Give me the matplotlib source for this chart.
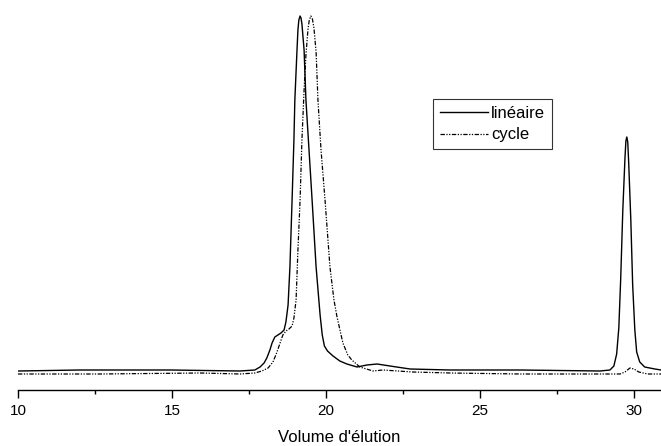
import numpy as np
import matplotlib
matplotlib.use("Agg")
import matplotlib.pyplot as plt
from matplotlib.ticker import MultipleLocator

plt.rcParams["font.family"] = ["Liberation Sans", "DejaVu Sans"]

# chromatogramme (volume, signal en unités arbitraires)
vol_lin = [10.0, 12.01, 14.94, 17.21, 17.69, 17.86, 17.99, 18.08, 18.18, 18.25,
           18.34, 18.44, 18.54, 18.64, 18.70, 18.77, 18.83, 18.90, 18.96, 18.99,
           19.06, 19.09, 19.12, 19.16, 19.19, 19.22, 19.29, 19.35, 19.45, 19.55,
           19.68, 19.81, 19.88, 19.95, 20.05, 20.23, 20.45, 20.68, 21.01, 21.33,
           21.66, 22.08, 22.73, 24.03, 26.30, 28.90, 29.22, 29.35, 29.44, 29.51,
           29.57, 29.64, 29.71, 29.74, 29.77, 29.80, 29.83, 29.90, 29.96, 30.03,
           30.09, 30.19, 30.35, 30.68, 30.88]
sig_lin = [19, 20, 20, 19, 20, 23, 27, 32, 40, 47,
           53, 55, 57, 60, 68, 85, 123, 190, 250, 290,
           340, 360, 370, 374, 372, 366, 340, 290, 240, 190,
           123, 75, 55, 44, 39, 34, 29, 26, 23, 25,
           26, 24, 21, 20, 20, 19, 20, 24, 36, 62,
           110, 180, 232, 249, 253, 248, 228, 170, 105, 60,
           38, 28, 23, 21, 20]

vol_cyc = [10.0, 12.66, 15.91, 17.21, 17.69, 17.92, 18.12, 18.28, 18.41, 18.51,
           18.60, 18.70, 18.80, 18.90, 18.96, 19.03, 19.09, 19.16, 19.22, 19.29,
           19.35, 19.42, 19.46, 19.51, 19.56, 19.61, 19.68, 19.74, 19.84, 19.97,
           20.13, 20.26, 20.36, 20.55, 20.71, 20.84, 21.10, 21.53, 21.85, 22.82,
           24.03, 26.30, 28.90, 29.55, 29.71, 29.87, 30.00, 30.16, 30.45, 30.88]
sig_cyc = [16, 16, 17, 16, 17, 19, 22, 28, 38, 47,
           55, 59, 61, 64, 72, 90, 140, 190, 250, 300,
           335, 362, 370, 374, 371, 362, 338, 290, 240, 190,
           123, 90, 73, 47, 35, 30, 23, 19, 20, 18,
           17, 16, 16, 16, 18, 22, 21, 18, 16, 16]

fig = plt.figure(figsize=(6.61, 4.46), dpi=100)
ax = fig.add_axes([18 / 661, 56 / 446, 643 / 661, 390 / 446])

ax.plot(vol_lin, sig_lin, color="black", lw=1.0, label="linéaire")
ax.plot(vol_cyc, sig_cyc, color="black", lw=0.9,
        dashes=(3.5, 1.2, 1, 1.2, 1, 1.2), label="cycle")

ax.set_xlim(10, 30.88)
ax.set_ylim(0, 390)
for s in ("left", "right", "top"):
    ax.spines[s].set_visible(False)
ax.spines["bottom"].set_linewidth(1.0)
ax.set_yticks([])
ax.xaxis.set_major_locator(MultipleLocator(5))
ax.xaxis.set_minor_locator(MultipleLocator(2.5))
ax.tick_params(axis="x", which="major", direction="out", length=6, width=1.0,
               labelsize=11, pad=4)
ax.tick_params(axis="x", which="minor", direction="out", length=3, width=1.0)
ax.set_xlabel("Volume d'élution", fontsize=12, labelpad=9)

leg = fig.legend(loc="upper left", bbox_to_anchor=(433 / 661, 1 - 99 / 446),
                 borderaxespad=0, fontsize=12, frameon=True, fancybox=False,
                 handlelength=2.9, handletextpad=0.2, borderpad=0.4,
                 labelspacing=0.4)
leg.get_frame().set_edgecolor("black")
leg.get_frame().set_linewidth(0.8)

fig.savefig("out.png", dpi=100)
